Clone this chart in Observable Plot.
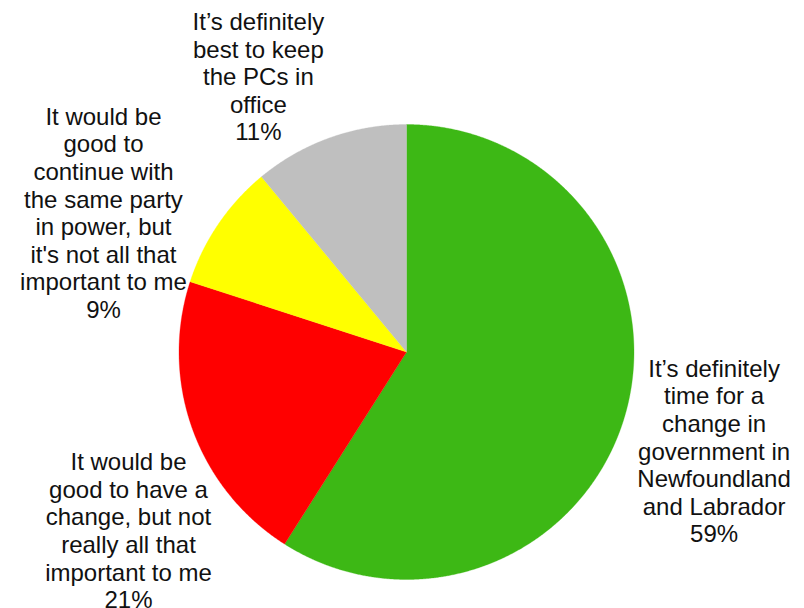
<!DOCTYPE html>
<html>
<head>
<meta charset="utf-8">
<script src="https://cdn.jsdelivr.net/npm/d3@7"></script>
<script src="https://cdn.jsdelivr.net/npm/@observablehq/plot@0.6"></script>
<style>
  html, body { margin: 0; padding: 0; background: #ffffff; }
  #chart { width: 804px; height: 608px; }
</style>
</head>
<body>
<div id="chart"></div>
<script>
// ---- Data ----
const categories = [
  "It’s definitely\ntime for a\nchange in\ngovernment in\nNewfoundland\nand Labrador",
  "It would be\ngood to have a\nchange, but not\nreally all that\nimportant to me",
  "It would be\ngood to\ncontinue with\nthe same party\nin power, but\nit's not all that\nimportant to me",
  "It’s definitely\nbest to keep\nthe PCs in\noffice"
];
const values = [59, 21, 9, 11];
const percentLabels = ["59%", "21%", "9%", "11%"];
const colors = ["#3DB815", "#FF0000", "#FFFF00", "#BFBFBF"];

// ---- Layout (label anchor positions in pie-radius units) ----
const labelPos = [[1.352, -0.434], [-1.222, -0.784], [-1.332, 0.613], [-0.651, 1.212]];

// ---- Build slices ----
const arcs = d3.pie().sort(null)(values);
const slicePts = [];
arcs.forEach((a, i) => {
  const step = Math.PI / 720;
  slicePts.push({key: i, color: colors[i], x: 0, y: 0});
  const n = Math.max(2, Math.ceil((a.endAngle - a.startAngle) / step));
  for (let k = 0; k <= n; k++) {
    const t = a.startAngle + (a.endAngle - a.startAngle) * k / n;
    slicePts.push({key: i, color: colors[i], x: Math.sin(t), y: Math.cos(t)});
  }
  slicePts.push({key: i, color: colors[i], x: 0, y: 0});
});

const labels = categories.map((c, i) => ({
  text: c + "\n" + percentLabels[i],
  x: labelPos[i][0],
  y: labelPos[i][1]
}));

const cx = 406, cy = 351.5, r = 227.5;

const chart = Plot.plot({
  width: 804,
  height: 608,
  margin: 0,
  style: {fontFamily: "'Liberation Sans', Arial, sans-serif", background: "#ffffff"},
  x: {domain: [-1, 1], range: [cx - r, cx + r], axis: null},
  y: {domain: [-1, 1], range: [cy + r, cy - r], axis: null},
  color: {type: "identity"},
  marks: [
    Plot.line(slicePts, {x: "x", y: "y", z: "key", fill: "color", stroke: "color", strokeWidth: 0.3, curve: "linear"}),
    Plot.text(labels, {x: "x", y: "y", text: "text", fontSize: 24, lineHeight: 1.15, fill: "#111111", textAnchor: "middle"})
  ]
});
document.getElementById("chart").appendChild(chart);
</script>
</body>
</html>
